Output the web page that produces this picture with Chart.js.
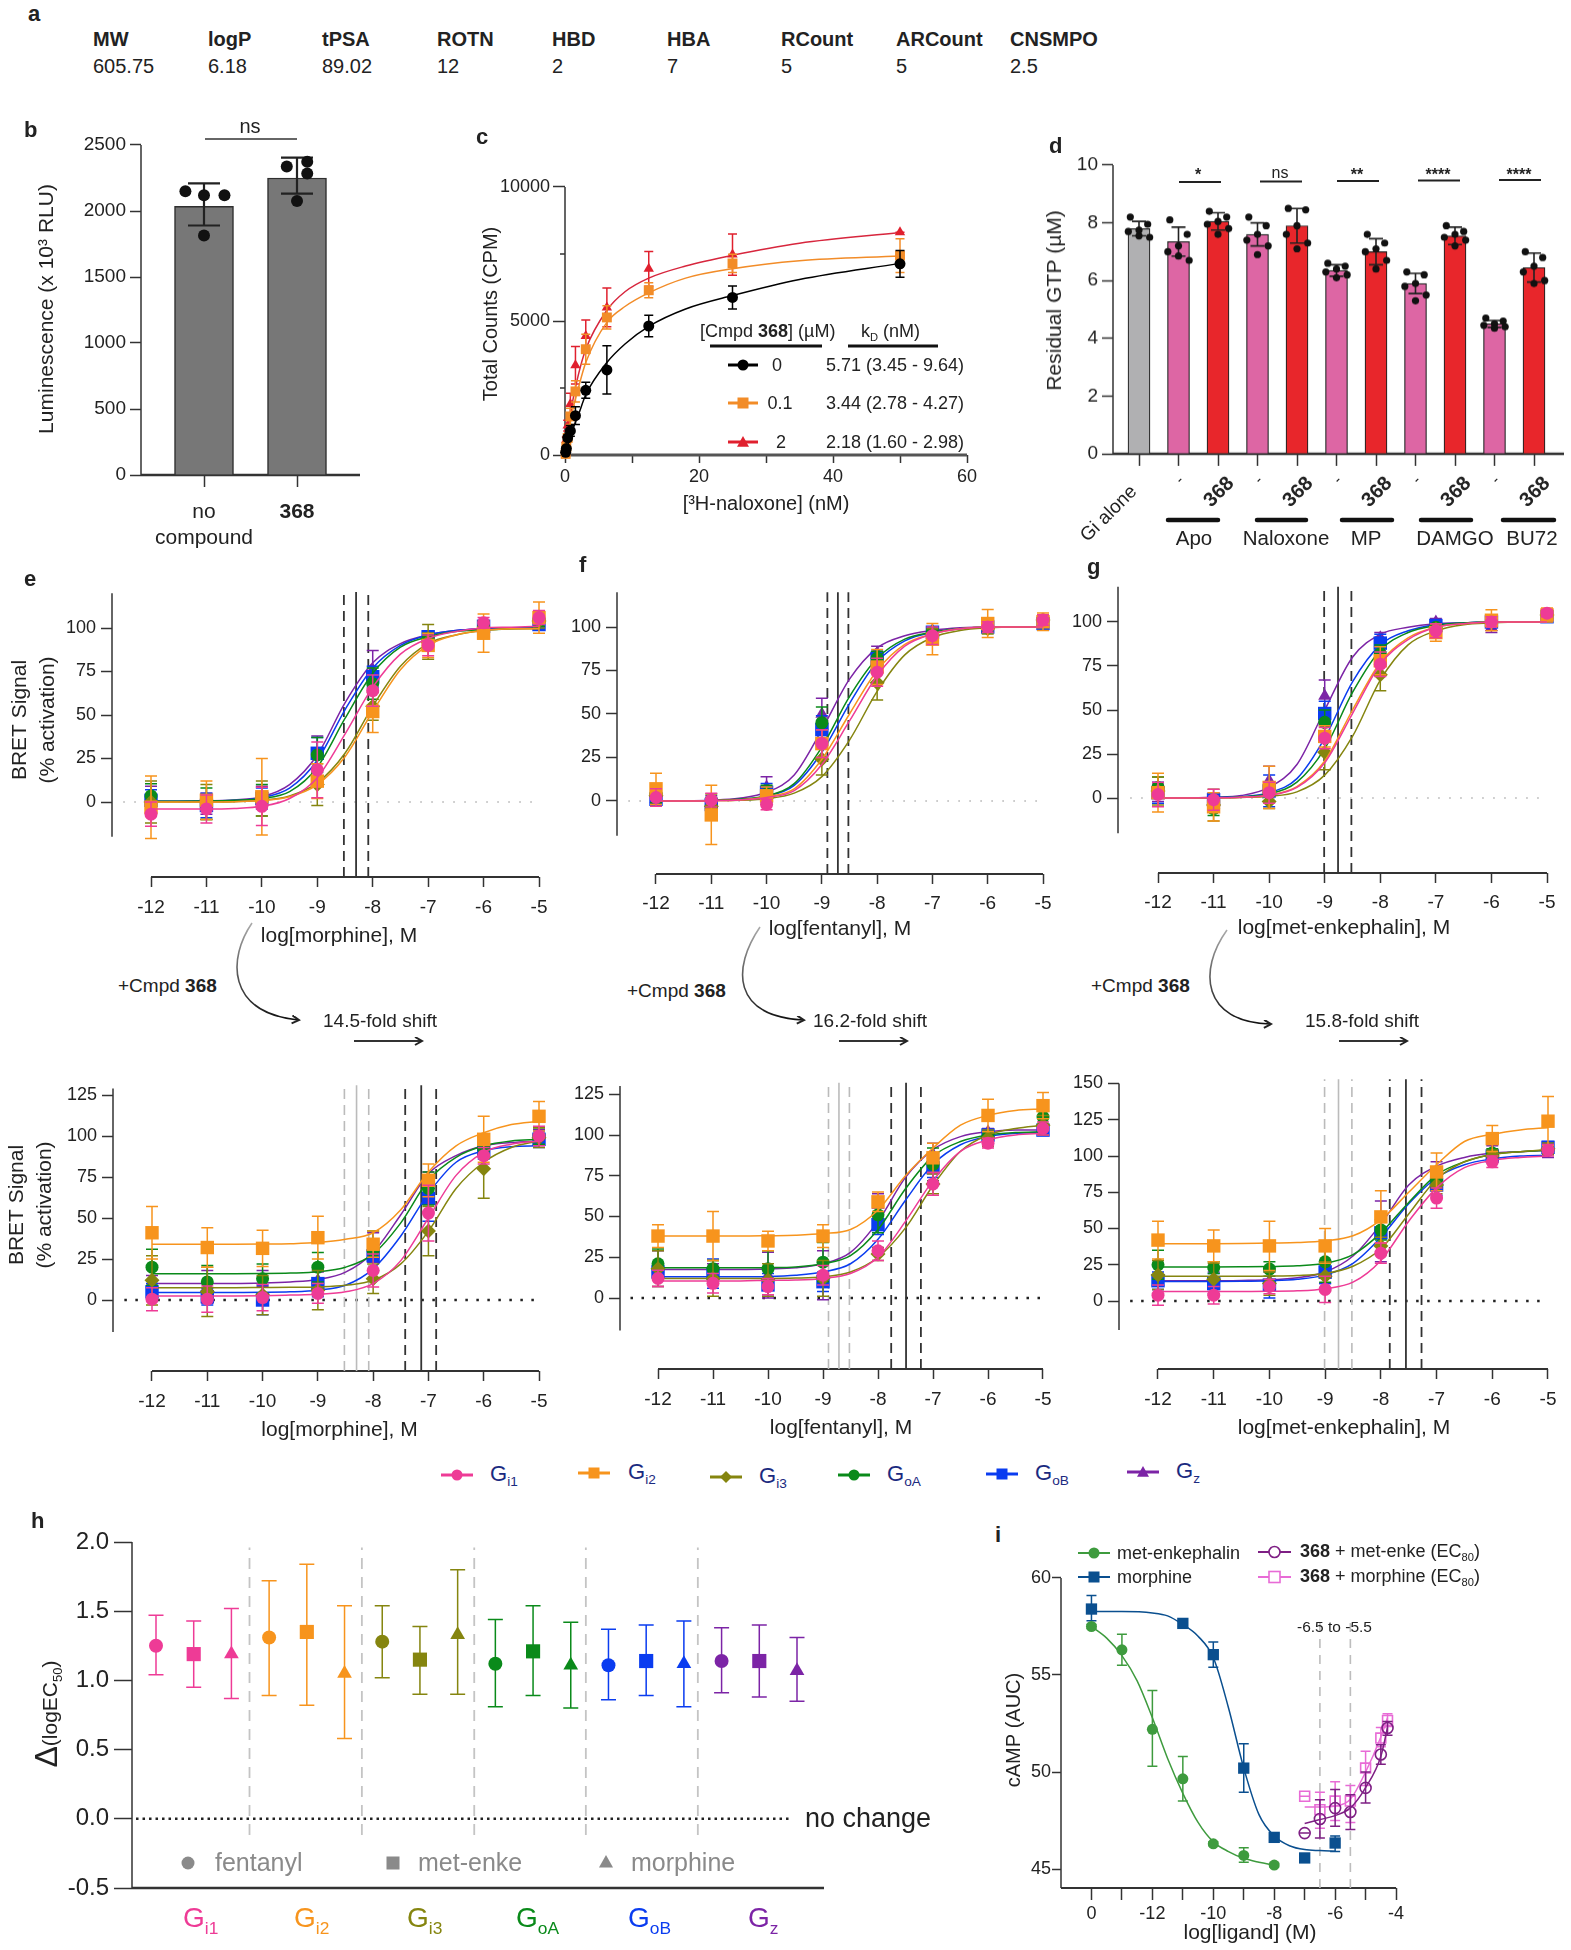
<!DOCTYPE html>
<html>
<head>
<meta charset="utf-8">
<title>Compound 368 figure</title>
<script src="https://cdn.jsdelivr.net/npm/chart.js@4/dist/chart.umd.min.js"></script>
<style>
  html, body { margin: 0; background: #fff; }
  #page { position: relative; width: 1571px; height: 1950px; overflow: hidden; font-family: "Liberation Sans", Arial, sans-serif; color: #222; }
  #page canvas { position: absolute; }
  #page svg { position: absolute; left: 0; top: 0; }
  .t { position: absolute; white-space: nowrap; line-height: 1; transform: translateY(-50%); }
  .t sub { font-size: .62em; vertical-align: baseline; position: relative; top: .4em; line-height: 0; }
</style>
</head>
<body>
<div id="page"></div>
<script>
// ---- panel a
const propNames = ["MW", "logP", "tPSA", "ROTN", "HBD", "HBA", "RCount", "ARCount", "CNSMPO"];
const propValues = ["605.75", "6.18", "89.02", "12", "2", "7", "5", "5", "2.5"];

// ---- panel b
const bLabels = [["no", "compound"], "368"];
const bMeans = [2035, 2250];
const bHi = [2210, 2405];
const bLo = [1890, 2132];
const bDotX = [0.8, 1, 1.22, 1, 1.89, 2.11, 2.11, 2];
const bDotY = [2150, 2120, 2120, 1815, 2338, 2373, 2284, 2076];

// ---- panel c
const cX = [0.1, 0.2, 0.4, 0.8, 1.56, 3.1, 6.25, 12.5, 25, 50];
const cBlack = [100, 240, 640, 900, 1467, 2413, 3173, 4813, 5880, 7133];
const cBlackErr = [30, 60, 100, 200, 330, 300, 900, 400, 430, 500];
const cOrange = [40, 300, 640, 1440, 2373, 3947, 5133, 6147, 7147, 7440];
const cOrangeErr = [40, 100, 150, 300, 400, 560, 435, 280, 340, 630];
const cRed = [170, 570, 1100, 1900, 3347, 4440, 5507, 6947, 7480, 8307];
const cRedErr = [50, 100, 200, 400, 700, 600, 720, 650, 770, 0];
const cFitX = [0, 1, 2, 3.1, 6.25, 9, 12.5, 18, 25, 35, 50];
const cBlackFit = [0, 850, 1500, 2250, 3450, 4150, 4800, 5450, 5950, 6550, 7150];
const cOrangeFit = [0, 1500, 2500, 3450, 4950, 5550, 6050, 6600, 6950, 7250, 7430];
const cRedFit = [0, 1800, 3000, 3950, 5400, 6100, 6600, 7050, 7450, 7900, 8300];

// ---- panel d
const dLabels = ["Gi alone", "-", "368", "-", "368", "-", "368", "-", "368", "-", "368"];
const dMeans = [7.8, 7.35, 8.05, 7.6, 7.9, 6.35, 7.0, 5.9, 7.55, 4.5, 6.45];
const dErr = [0.25, 0.5, 0.3, 0.4, 0.6, 0.2, 0.45, 0.35, 0.3, 0.12, 0.5];
const dDots = [
  [8.2, 7.95, 7.75, 7.7, 7.5, 7.55], [8.1, 7.6, 7.2, 7.0, 6.7, 6.85], [8.4, 8.2, 8.05, 7.95, 7.8, 7.6],
  [8.2, 7.9, 7.6, 7.4, 7.2, 6.9], [8.5, 8.45, 7.9, 7.6, 7.3, 7.1], [6.6, 6.5, 6.4, 6.3, 6.2, 6.1],
  [7.6, 7.3, 7.1, 7.0, 6.7, 6.4], [6.3, 6.2, 5.9, 5.8, 5.5, 5.3], [7.9, 7.7, 7.6, 7.5, 7.4, 7.2],
  [4.7, 4.6, 4.5, 4.45, 4.4, 4.35], [7.0, 6.8, 6.5, 6.3, 6.0, 5.9]
];
const dJitter = [-0.22, 0.22, 0, -0.27, 0.27, 0];

// ---- panels e, f, g: rows are Gi1, Gi2, Gi3, GoA, GoB, Gz
const gNames = ["i1", "i2", "i3", "oA", "oB", "z"];
const gColors = ["#EE3B96", "#F7941D", "#85850F", "#0A8A1A", "#0A3CF0", "#7C24A6"];
const gShapes = ["circle", "rect", "rectRot", "circle", "rect", "triangle"];
const gRadius = [6.5, 9.5, 7.5, 6.5, 9.5, 7.5];
const doseX = [-12, -11, -10, -9, -8, -7, -6, -5];
const fitX = [-12, -11.5, -11, -10.5, -10, -9.5, -9, -8.5, -8, -7.5, -7, -6.5, -6, -5.5, -5];

const eTopPts = [[-7, -4, -2.5, 18.5, 64, 90, 103, 106], [-3, 1, 3, 12, 52, 90, 97, 106], [0, 0, 2, 10, 55, 92, 99, 104], [3.5, -1, 1, 27, 68, 94, 100, 104], [1, -2, 2, 28, 72, 95, 101, 102], [2, -1, 3, 28, 76, 95, 101, 103]];
const eTopErr = [[7, 8, 11, 16, 9, 6, 3, 4], [18, 11, 22, 10, 12, 7, 11, 9], [12, 10, 10, 12, 8, 10, 5, 4], [7, 9, 9, 10, 9, 3, 2, 3], [6, 7, 6, 9, 6, 2, 3, 3], [7, 6, 6, 10, 11, 2, 3, 3]];
const eTopFit = [
  [-4, -4, -4, -3.7, -2.5, 2, 14, 39, 66, 85, 94, 98, 100, 100.5, 101],
  [0, 0, 0, 0.2, 0.8, 3, 10, 26, 52, 76, 90, 96, 98.5, 99.5, 99.5],
  [0, 0, 0, 0.2, 1, 3.5, 11, 28, 55, 78, 91, 96, 98.5, 99.5, 99.5],
  [0.5, 0.5, 0.6, 1, 2, 6, 20, 48, 74, 89, 95, 98, 99, 99.5, 100],
  [0.5, 0.5, 0.6, 1, 2.5, 8, 24, 53, 77, 90, 96, 98.5, 99.5, 100, 100],
  [0.5, 0.5, 0.7, 1.2, 3, 10, 27, 57, 80, 91, 96, 98.5, 99.5, 100, 100]
];
const fTopPts = [[2, 0.5, -2, 33, 74, 95, 100, 104], [7, -8, 3, 33, 77, 93, 102, 103], [3, -3, 2, 24, 68, 95, 99, 104], [4, -4, 4, 45, 82, 97, 100, 104], [1, -2, 5, 41, 82, 97, 100, 102], [1, 0, 8, 50, 85, 98, 100, 103]];
const fTopErr = [[5, 4, 3, 8, 8, 5, 3, 3], [9, 17, 5, 8, 10, 9, 8, 5], [5, 7, 4, 9, 10, 4, 3, 3], [5, 6, 5, 9, 4, 2, 3, 3], [3, 3, 5, 8, 4, 2, 2, 2], [3, 3, 6, 9, 4, 2, 2, 2]];
const fTopFit = [
  [0, 0, 0.2, 0.6, 2, 6, 21, 46, 72, 89, 96, 99, 100, 100, 100],
  [0, 0, 0.2, 0.6, 2.5, 7, 24, 50, 75, 90, 96, 99, 100, 100, 100],
  [0, 0, 0.2, 0.4, 1.3, 4.5, 14, 35, 63, 84, 94, 98, 99.5, 100, 100],
  [0, 0, 0.3, 1, 3, 10, 31, 60, 82, 93, 97, 99, 100, 100, 100],
  [0, 0, 0.3, 0.9, 2.8, 9, 28, 56, 80, 92, 97, 99, 100, 100, 100],
  [0, 0.1, 0.5, 1.6, 5, 15, 41, 70, 88, 95, 98, 99.5, 100, 100, 100]
];
const gTopPts = [[2, -1, 3, 34, 76, 95, 100, 105], [3, -5, 6, 35, 78, 94, 101, 104], [4, -4, -2, 26, 70, 96, 100, 104], [6, -6, 3, 43, 82, 97, 100, 104], [3, -1, 4, 48, 88, 98, 100, 103], [3, -1, 10, 58, 91, 100, 97, 104]];
const gTopErr = [[7, 6, 6, 6, 7, 4, 3, 2], [11, 8, 12, 6, 8, 5, 6, 4], [8, 9, 4, 10, 9, 3, 3, 2], [6, 4, 5, 7, 5, 2, 3, 3], [6, 3, 9, 7, 5, 2, 2, 2], [5, 4, 8, 9, 3, 2, 3, 2]];
const gTopFit = [
  [0, 0, 0.1, 0.4, 1.5, 6, 20, 48, 76, 90, 97, 99, 100, 100, 100],
  [0, 0, 0.1, 0.4, 1.6, 6.5, 21, 50, 77, 91, 97, 99, 100, 100, 100],
  [0, 0, 0.1, 0.3, 1, 3.5, 13, 35, 67, 87, 95, 98.5, 99.5, 100, 100],
  [0, 0, 0.2, 0.6, 2.4, 9, 28, 60, 84, 94, 98, 99.5, 100, 100, 100],
  [0, 0, 0.2, 0.8, 3, 11, 34, 66, 87, 95, 98.5, 99.5, 100, 100, 100],
  [0, 0, 0.4, 1.4, 6, 19, 50, 80, 93, 97, 99, 99.5, 100, 100, 100]
];
const eBotPts = [[0.5, 0.5, 1.5, 4, 18, 53, 88, 100], [41, 32, 31.5, 38, 34, 73, 98, 112], [12, 5, 3, 6, 13, 42, 80, 99], [20, 11, 13, 20, 30, 68, 92, 100], [5, 2, 0, 10, 27, 62, 91, 98], [10, 8, 10, 12, 32, 70, 92, 100]];
const eBotErr = [[7, 8, 8, 6, 10, 17, 5, 6], [16, 12, 11, 13, 8, 10, 14, 9], [15, 15, 12, 12, 9, 15, 18, 6], [11, 10, 9, 9, 12, 10, 3, 5], [5, 5, 9, 8, 9, 14, 5, 5], [5, 10, 8, 5, 9, 8, 3, 4]];
const eBotFit = [
  [2.5, 2.5, 2.5, 2.5, 2.6, 3, 3.5, 5, 10, 24, 50, 76, 90, 95, 97],
  [34, 34, 34, 34, 34.1, 34.3, 35, 37, 41, 55, 78, 94, 102, 107, 109],
  [7.5, 7.5, 7.5, 7.5, 7.6, 7.7, 8, 9, 12, 22, 42, 68, 84, 93, 97],
  [16, 16, 16, 16, 16.1, 16.4, 17.2, 20, 28, 47, 73, 87, 94, 97, 98],
  [4.5, 4.5, 4.5, 4.6, 4.7, 5, 6, 9, 19, 39, 65, 84, 91, 93.5, 94],
  [10, 10, 10, 10, 10.3, 11, 12.5, 17, 29, 52, 77, 88, 94, 96, 97]
];
const fBotPts = [[12, 9, 7, 14, 29, 70, 95, 104], [38, 38, 35, 38, 59, 86, 112, 118], [18, 12, 11, 12, 27, 70, 98, 106], [21, 18, 18, 22, 51, 82, 99, 111], [16, 15, 8, 10, 45, 80, 100, 103], [18, 15, 14, 14, 57, 88, 102, 106]];
const fBotErr = [[5, 6, 5, 6, 6, 7, 3, 4], [7, 15, 6, 7, 6, 9, 10, 8], [11, 11, 10, 11, 4, 6, 5, 6], [9, 5, 11, 12, 11, 10, 3, 5], [5, 9, 7, 6, 6, 6, 3, 3], [11, 6, 14, 15, 7, 7, 2, 5]];
const fBotFit = [
  [10.5, 10.5, 10.5, 10.5, 10.8, 11, 12, 15, 25, 47, 72, 90, 97, 100, 101],
  [38, 38, 38, 38, 38.2, 38.5, 39.5, 42, 54, 75, 92, 106, 112, 115, 116],
  [12, 12, 12, 12, 12, 12.2, 13, 16, 25, 43, 69, 90, 100, 104, 106],
  [18.5, 18.5, 18.5, 18.5, 18.6, 19, 21, 26, 42, 67, 87, 96, 100, 101.5, 102],
  [13, 13, 13, 13, 13.2, 14, 16, 21, 36, 60, 82, 94, 99, 101, 101.5],
  [17.5, 17.5, 17.5, 17.5, 17.8, 18.5, 21, 28, 47, 74, 91, 99, 102, 103, 103]
];
const gBotPts = [[4, 4, 10, 8, 33, 71, 96, 104], [42, 38, 38, 38, 58, 89, 112, 124], [18, 15, 12, 17, 38, 80, 100, 105], [25, 23, 22, 27, 49, 83, 102, 104], [14, 12, 11, 20, 47, 80, 100, 106], [13, 14, 14, 18, 48, 86, 103, 104]];
const gBotErr = [[7, 6, 5, 9, 7, 7, 4, 4], [13, 11, 17, 12, 18, 13, 9, 17], [10, 11, 8, 10, 6, 6, 4, 4], [10, 4, 5, 14, 7, 5, 3, 3], [6, 7, 9, 8, 9, 7, 3, 4], [5, 6, 7, 6, 21, 10, 4, 5]];
const gBotFit = [
  [6.5, 6.5, 6.5, 6.6, 6.7, 7, 8.5, 13, 28, 55, 78, 92, 97, 99, 100],
  [39.5, 39.5, 39.5, 39.6, 40, 40.3, 41.5, 45, 56, 75, 94, 110, 115, 118, 119.5],
  [17, 17, 17, 17, 17.2, 17.6, 19, 24, 36, 60, 84, 96, 101, 103, 104.5],
  [23.5, 23.5, 23.5, 23.6, 23.8, 24.3, 26, 32, 47, 68, 87, 96, 101, 103, 104],
  [13.5, 13.5, 13.5, 13.6, 14, 15, 18, 26, 44, 67, 85, 94, 98, 100, 100.5],
  [14, 14, 14, 14.2, 14.6, 16, 20, 31, 53, 80, 93, 99, 102, 103, 104]
];
const ecMorphineTop = [-8.52, -8.3, -8.08];
const ecFentanylTop = [-8.9, -8.71, -8.52];
const ecEnkTop = [-9.01, -8.76, -8.52];
const ecMorphineBot = [-7.42, -7.13, -6.86];
const ecFentanylBot = [-7.76, -7.49, -7.22];
const ecEnkBot = [-7.84, -7.55, -7.27];

// ---- panel h: three ligands per G protein (fentanyl, met-enke, morphine)
const hShapes = ["circle", "rect", "triangle"];
const hRadius = [7, 10, 8.5];
const hMeans = [[1.25, 1.19, 1.19], [1.31, 1.35, 1.05], [1.28, 1.15, 1.33], [1.12, 1.21, 1.11], [1.11, 1.14, 1.12], [1.14, 1.14, 1.07]];
const hHi = [[1.47, 1.43, 1.52], [1.72, 1.84, 1.54], [1.54, 1.39, 1.80], [1.44, 1.54, 1.42], [1.37, 1.40, 1.43], [1.38, 1.40, 1.31]];
const hLo = [[1.04, 0.95, 0.87], [0.89, 0.82, 0.58], [1.02, 0.90, 0.90], [0.81, 0.89, 0.80], [0.86, 0.89, 0.81], [0.91, 0.88, 0.85]];
const hSeparators = [2.48, 5.46, 8.44, 11.4, 14.37];
const hTicks = [-0.5, 0, 0.5, 1, 1.5, 2];

// ---- panel i
const iTicks = [-14, -13, -12, -11, -10, -9, -8, -7, -6, -5, -4];
const iEnkX = [-14, -13, -12, -11, -10, -9, -8];
const iEnk = [57.5, 56.3, 52.2, 49.65, 46.3, 45.7, 45.2];
const iEnkHi = [57.6, 57.1, 54.2, 50.8, 46.4, 46.1, 45.3];
const iEnkLo = [57.4, 55.5, 50.3, 48.5, 46.2, 45.35, 45.1];
const iEnkFitX = [-14, -13.5, -13, -12.5, -12, -11.5, -11, -10.5, -10, -9.5, -9, -8.5, -8];
const iEnkFit = [57.5, 56.9, 56.0, 54.7, 52.8, 50.7, 48.9, 47.4, 46.4, 45.9, 45.55, 45.35, 45.2];
const iMorX = [-14, -11, -10, -9, -8, -7, -6];
const iMor = [58.4, 57.66, 56.05, 50.2, 46.63, 45.57, 46.34];
const iMorHi = [59.1, 57.8, 56.7, 51.46, 46.8, 45.7, 46.7];
const iMorLo = [57.8, 57.5, 55.4, 48.95, 46.45, 45.45, 45.9];
const iMorFitX = [-14, -13, -12, -11.5, -11, -10.5, -10, -9.5, -9, -8.5, -8, -7.5, -7, -6.5, -6];
const iMorFit = [58.27, 58.27, 58.2, 58.05, 57.6, 57, 55.9, 53.3, 50.2, 47.8, 46.7, 46.2, 46, 45.95, 45.92];
const iCmpdX = [-7, -6.5, -6, -5.5, -5, -4.5, -4.28];
const iCmpdEnk = [46.85, 47.58, 48.14, 47.94, 49.18, 50.9, 52.27];
const iCmpdEnkHi = [46.85, 48.57, 49.1, 48.83, 50, 51.4, 52.6];
const iCmpdEnkLo = [46.85, 46.6, 47.2, 47.03, 48.4, 50.4, 51.9];
const iCmpdEnkFit = [47.35, 47.55, 47.75, 48.15, 49.2, 50.8, 52.3];
const iCmpdMor = [48.75, 48.06, 48.5, 48.5, 50.2, 51.75, 52.66];
const iCmpdMorHi = [48.75, 48.95, 49.5, 49.3, 51.07, 52.3, 53];
const iCmpdMorLo = [48.75, 47.1, 47.5, 47.4, 49.3, 51.3, 52.35];
const iCmpdMorFit = [48.2, 48.2, 48.25, 48.6, 50, 51.8, 52.8];
const iWindow = [-6.5, -5.5];

// ---------------------------------------------------------------------
Chart.defaults.font.family = '"Liberation Sans", Arial, sans-serif';
Chart.defaults.color = "#222";
const page = document.getElementById("page");
const INK = "#333";
const PAD = 20;

// error bars get drawn just under the points of their own dataset
Chart.register({
  id: "errorBars",
  beforeDatasetDraw(chart, args) {
    const ds = chart.data.datasets[args.index];
    if (!ds.hi) return;
    const { x: xs, y: ys } = chart.scales;
    const ctx = chart.ctx;
    const cap = ds.cap / 2;
    ctx.save();
    ctx.strokeStyle = ds.errColor || ds.borderColor;
    ctx.lineWidth = ds.errWidth || 1.5;
    ds.data.forEach((p, i) => {
      const x = xs.getPixelForValue(p.x);
      const top = ys.getPixelForValue(ds.hi[i]);
      const bot = ys.getPixelForValue(ds.lo[i]);
      ctx.beginPath();
      ctx.moveTo(x, top); ctx.lineTo(x, bot);
      ctx.moveTo(x - cap, top); ctx.lineTo(x + cap, top);
      ctx.moveTo(x - cap, bot); ctx.lineTo(x + cap, bot);
      ctx.stroke();
    });
    ctx.restore();
  }
});

// axis lines only run over part of the plot area in this figure
Chart.register({
  id: "axisLines",
  beforeDatasetsDraw(chart, args, o) {
    const { x: xs, y: ys } = chart.scales;
    const { left, bottom } = chart.chartArea;
    const ctx = chart.ctx;
    ctx.save();
    ctx.strokeStyle = o.color || INK;
    ctx.lineWidth = o.yWidth || 1.5;
    ctx.beginPath();
    ctx.moveTo(left, ys.getPixelForValue(o.yFrom));
    ctx.lineTo(left, ys.getPixelForValue(o.yTo));
    (o.minorY || []).forEach(v => {
      ctx.moveTo(left, ys.getPixelForValue(v));
      ctx.lineTo(left - 5, ys.getPixelForValue(v));
    });
    ctx.stroke();
    ctx.strokeStyle = o.xColor || o.color || INK;
    ctx.lineWidth = o.xWidth || 2;
    ctx.beginPath();
    ctx.moveTo(xs.getPixelForValue(o.xFrom), bottom);
    ctx.lineTo(xs.getPixelForValue(o.xTo), bottom);
    ctx.stroke();
    ctx.restore();
  }
});

// value range a scale needs so that two known values land on two known pixels
function rangeFor(pxLo, pxHi, v0, p0, v1, p1) {
  const at = p => v0 + (p - p0) * (v1 - v0) / (p1 - p0);
  return [at(pxLo), at(pxHi)];
}

// b: plot box in page pixels, yw/xh: room for the y and x axes
function makeChart(b, datasets, xOpt, yOpt, axes, type) {
  const c = document.createElement("canvas");
  const w = b.right - b.left + b.yw + PAD;
  const h = b.bottom - b.top + b.xh + PAD;
  c.width = w; c.height = h;
  c.style.cssText = `left:${b.left - b.yw}px;top:${b.top - PAD}px;width:${w}px;height:${h}px`;
  page.appendChild(c);
  const xTicks = xOpt.tickValues, yTicks = yOpt.tickValues;
  return new Chart(c, {
    type: type || "scatter",
    data: { datasets },
    options: {
      responsive: false,
      animation: false,
      devicePixelRatio: 1,
      layout: { padding: { top: PAD, right: PAD, left: 0, bottom: 0 } },
      plugins: { legend: { display: false }, tooltip: { enabled: false }, axisLines: axes },
      scales: {
        x: {
          type: "linear", min: xOpt.min, max: xOpt.max, offset: false,
          border: { display: false },
          grid: { drawOnChartArea: false, offset: false, tickLength: xOpt.tickLength, tickColor: INK, tickWidth: 1.5 },
          ticks: {
            autoSkip: false, maxRotation: xOpt.rotation || 0, minRotation: xOpt.rotation || 0,
            padding: xOpt.padding, font: xOpt.font, color: "#222", labelOffset: xOpt.labelOffset || 0,
            callback: xOpt.label || (v => String(v))
          },
          title: xOpt.title ? { display: true, text: xOpt.title, padding: 0, color: "#222", font: { size: xOpt.titleSize || 21, lineHeight: 1.24 } } : { display: false },
          afterBuildTicks: s => { s.ticks = xTicks.map(value => ({ value })); },
          afterFit: s => { s.height = b.xh; }
        },
        y: {
          type: "linear", min: yOpt.min, max: yOpt.max,
          border: { display: false },
          grid: { drawOnChartArea: false, tickLength: yOpt.tickLength, tickColor: INK, tickWidth: 1.5 },
          ticks: {
            autoSkip: false, padding: yOpt.padding || 6, font: yOpt.font, color: "#222",
            callback: yOpt.label || (v => String(v))
          },
          title: yOpt.title ? { display: true, text: yOpt.title, padding: 0, color: "#222", font: { size: yOpt.titleSize || 21, lineHeight: yOpt.titleLine || 1.24 } } : { display: false },
          afterBuildTicks: s => { s.ticks = yTicks.map(value => ({ value })); },
          afterFit: s => { s.width = b.yw; }
        }
      }
    }
  });
}

const toXY = (xs, ys) => xs.map((x, i) => ({ x, y: ys[i] }));
const fitLine = (xs, ys, color, width) => ({
  data: toXY(xs, ys), showLine: true, pointRadius: 0, borderColor: color,
  borderWidth: width || 1.5, cubicInterpolationMode: "monotone", clip: false
});
const marks = (xs, ys, hi, lo, color, style, radius, cap, extra) => Object.assign({
  data: toXY(xs, ys), pointStyle: style, pointRadius: radius, backgroundColor: color,
  borderColor: color, pointBorderWidth: 0, hi, lo, cap, clip: false
}, extra || {});
const vLine = (x, y0, y1, color, width, dash) => ({
  data: [{ x, y: y0 }, { x, y: y1 }], showLine: true, pointRadius: 0,
  borderColor: color, borderWidth: width, borderDash: dash || [], clip: false
});

// ---- text and decoration helpers
function label(x, y, html, size, opts) {
  const o = opts || {};
  const d = document.createElement("div");
  d.className = "t";
  d.innerHTML = html;
  d.style.left = x + "px";
  d.style.top = y + "px";
  d.style.fontSize = size + "px";
  if (o.bold) d.style.fontWeight = "bold";
  if (o.color) d.style.color = o.color;
  if (o.center) d.style.transform = "translate(-50%,-50%)";
  if (o.rotate) d.style.transform = `translate(-50%,-50%) rotate(${o.rotate}deg)`;
  page.appendChild(d);
}
let svg = `<defs>
  <marker id="head" markerWidth="10" markerHeight="10" refX="7" refY="4" orient="auto" markerUnits="userSpaceOnUse"><path d="M1,0 L8,4 L1,8" fill="none" stroke="#222" stroke-width="2"/></marker>
  <linearGradient id="fade" x1="0" y1="0" x2="0" y2="1"><stop offset="0" stop-color="#aaa"/><stop offset="1" stop-color="#111"/></linearGradient>
</defs>`;
const line = (x1, y1, x2, y2, color, w, head, round) => {
  svg += `<line x1="${x1}" y1="${y1}" x2="${x2}" y2="${y2}" stroke="${color}" stroke-width="${w}"${head ? ' marker-end="url(#head)"' : ""}${round ? ' stroke-linecap="round"' : ""}/>`;
};
const swoop = d => { svg += `<path d="${d}" fill="none" stroke="url(#fade)" stroke-width="1.6" marker-end="url(#head)"/>`; };
function glyph(shape, x, y, r, color, hollow) {
  const fill = hollow ? "#fff" : color;
  const paint = `fill="${fill}" stroke="${color}" stroke-width="${hollow ? 1.6 : 0}"`;
  if (shape === "circle") svg += `<circle cx="${x}" cy="${y}" r="${r}" ${paint}/>`;
  if (shape === "rect") svg += `<rect x="${x - r}" y="${y - r}" width="${2 * r}" height="${2 * r}" ${paint}/>`;
  if (shape === "rectRot") svg += `<path d="M${x},${y - r} L${x + r},${y} L${x},${y + r} L${x - r},${y} Z" ${paint}/>`;
  if (shape === "triangle") svg += `<path d="M${x},${y - r} L${x + r},${y + r * 0.8} L${x - r},${y + r * 0.8} Z" ${paint}/>`;
}
function legendKey(x0, x1, y, shape, r, color, hollow, w) {
  line(x0, y, x1, y, color, w || 3);
  glyph(shape, (x0 + x1) / 2, y, r, color, hollow);
}

// ---- panel a
const propX = [93, 208, 322, 437, 552, 667, 781, 896, 1010];
propNames.forEach((n, i) => {
  label(propX[i], 39, n, 20, { bold: true });
  label(propX[i], 66, propValues[i], 20);
});

// ---- panel b
{
  const box = { left: 141, right: 360, top: 143, bottom: 475, yw: 107, xh: 80 };
  const [xMin, xMax] = rangeFor(box.left, box.right, 1, 204, 2, 297);
  const [yMin, yMax] = rangeFor(box.bottom, box.top, 0, 475, 2500, 145);
  const dots = { type: "scatter", data: toXY(bDotX, bDotY), pointRadius: 6, backgroundColor: "#111", pointBorderWidth: 0 };
  const means = { type: "scatter", data: toXY([1, 2], bMeans), pointRadius: 0, borderColor: "#222", hi: bHi, lo: bLo, cap: 32, errWidth: 2.2 };
  const bars = { type: "bar", data: toXY([1, 2], bMeans), barThickness: 59, backgroundColor: "#777777", borderColor: "#2f2f2f", borderWidth: 1.5 };
  makeChart(box, [dots, means, bars],
    {
      min: xMin, max: xMax, tickValues: [1, 2], tickLength: 12, padding: 12,
      label: (v, i) => bLabels[i],
      font: c => ({ size: 21, lineHeight: 1.24, weight: c.index === 1 ? "bold" : "normal" })
    },
    {
      min: yMin, max: yMax, tickValues: [0, 500, 1000, 1500, 2000, 2500], tickLength: 11,
      padding: 4, font: { size: 19 }, title: "Luminescence (x 10³ RLU)"
    },
    { yFrom: 0, yTo: 2500, xFrom: xMin, xTo: xMax, xWidth: 2.5 }, "bar");
  label(250, 126, "ns", 20, { center: true });
  line(205, 139, 297, 139, "#333", 1.6);
}

// ---- panel c
{
  const box = { left: 565, right: 967, top: 173, bottom: 455, yw: 86, xh: 62 };
  const [yMin, yMax] = rangeFor(box.bottom, box.top, 0, 455, 10000, 187);
  const plusMinus = (v, e) => v.map((a, i) => a + e[i]);
  const minusErr = (v, e) => v.map((a, i) => a - e[i]);
  makeChart(box, [
    marks(cX, cBlack, plusMinus(cBlack, cBlackErr), minusErr(cBlack, cBlackErr), "#000", "circle", 5.5, 9),
    fitLine(cFitX, cBlackFit, "#000"),
    marks(cX, cOrange, plusMinus(cOrange, cOrangeErr), minusErr(cOrange, cOrangeErr), "#F28C28", "rect", 7, 9),
    fitLine(cFitX, cOrangeFit, "#F28C28"),
    marks(cX, cRed, plusMinus(cRed, cRedErr), minusErr(cRed, cRedErr), "#E0202E", "triangle", 6, 9),
    fitLine(cFitX, cRedFit, "#D7263D")
  ],
    {
      min: 0, max: 60, tickValues: [0, 10, 20, 30, 40, 50, 60], tickLength: 8, padding: 3,
      label: v => (v % 20 === 0 ? String(v) : ""), font: { size: 18 }, title: "[³H-naloxone] (nM)", titleSize: 20
    },
    {
      min: yMin, max: yMax, tickValues: [0, 5000, 10000], tickLength: 12, padding: 3,
      font: { size: 18 }, title: "Total Counts (CPM)", titleSize: 20
    },
    { yFrom: 0, yTo: 10000, xFrom: 0, xTo: 60, minorY: [2500, 7500], xColor: "#555", xWidth: 3 });
  label(700, 331, "[Cmpd <b>368</b>] (µM)", 18);
  label(861, 331, "k<sub>D</sub> (nM)", 18);
  line(710, 346, 822, 346, "#111", 3);
  line(848, 346, 938, 346, "#111", 3);
  legendKey(728, 758, 365, "circle", 5.5, "#000");
  legendKey(728, 758, 403, "rect", 5.5, "#F28C28");
  legendKey(728, 758, 442, "triangle", 6, "#E0202E");
  label(777, 365, "0", 18, { center: true });
  label(780, 403, "0.1", 18, { center: true });
  label(781, 442, "2", 18, { center: true });
  label(826, 365, "5.71 (3.45 - 9.64)", 18);
  label(826, 403, "3.44 (2.78 - 4.27)", 18);
  label(826, 442, "2.18 (1.60 - 2.98)", 18);
}

// ---- panel d
{
  const box = { left: 1113, right: 1564, top: 147, bottom: 453.5, yw: 71, xh: 75 };
  const [xMin, xMax] = rangeFor(box.left, box.right, 0, 1139, 10, 1534);
  const [yMin, yMax] = rangeFor(box.bottom, box.top, 0, 453.5, 10, 165);
  const bx = dMeans.map((_, i) => i);
  const dotPts = [];
  dDots.forEach((row, i) => row.forEach((y, j) => dotPts.push({ x: i + dJitter[j], y })));
  const dots = { type: "scatter", data: dotPts, pointRadius: 3.6, backgroundColor: "#111", pointBorderWidth: 0 };
  const means = {
    type: "scatter", data: toXY(bx, dMeans), pointRadius: 0, borderColor: "#222", cap: 14, errWidth: 1.6,
    hi: dMeans.map((m, i) => m + dErr[i]), lo: dMeans.map((m, i) => m - dErr[i])
  };
  const bars = {
    type: "bar", data: toXY(bx, dMeans), barThickness: 22, borderColor: "#222", borderWidth: 1.2,
    backgroundColor: dLabels.map(l => (l === "368" ? "#E8262B" : l === "-" ? "#DD66A4" : "#B0B0B2"))
  };
  // only the bold compound labels sit at one fixed offset from their tick
  makeChart(box, [dots, means, bars],
    {
      min: xMin, max: xMax, tickValues: bx, tickLength: 12, padding: 6, rotation: 45, labelOffset: 13,
      label: (v, i) => (dLabels[i] === "368" ? "368" : ""),
      font: { size: 20, weight: "bold" }
    },
    {
      min: yMin, max: yMax, tickValues: [0, 2, 4, 6, 8, 10], tickLength: 11, padding: 4,
      font: { size: 19 }, title: "Residual GTP (µM)"
    },
    { yFrom: 0, yTo: 10, xFrom: xMin, xTo: xMax, xWidth: 2.5 }, "bar");
  label(1108, 513, dLabels[0], 19, { rotate: -45 });
  dLabels.forEach((l, i) => { if (l === "-") label(1139 + 39.5 * i, 479, l, 15, { rotate: -45 }); });
  const sig = ["*", "ns", "**", "****", "****"];
  const sigX = [1198, 1280, 1357, 1438, 1519];
  const sigLines = [[1179, 1221, 182], [1260, 1302, 181.5], [1337, 1379, 181], [1418, 1460, 180.5], [1499, 1541, 180]];
  sig.forEach((s, i) => {
    label(sigX[i], s === "ns" ? 173 : 175, s, 16, { center: true, bold: s !== "ns" });
    line(sigLines[i][0], sigLines[i][2], sigLines[i][1], sigLines[i][2], "#222", 1.8);
  });
  const groups = ["Apo", "Naloxone", "MP", "DAMGO", "BU72"];
  const groupX = [1194, 1286, 1366, 1455, 1532];
  const groupBar = [[1168, 1218], [1257, 1306], [1342, 1392], [1421, 1471], [1503, 1554]];
  groups.forEach((g, i) => {
    label(groupX[i], 538, g, 20.5, { center: true });
    line(groupBar[i][0], 520, groupBar[i][1], 520, "#111", 4.5, false, true);
  });
}

// ---- panels e, f, g
function dosePanel(p) {
  const box = { left: p.left, right: p.right, top: p.top, bottom: p.bottom, yw: p.yw, xh: p.xh };
  const [xMin, xMax] = rangeFor(p.left, p.right, -12, p.x12, -5, p.x5);
  const [yMin, yMax] = rangeFor(p.bottom, p.top, 0, p.y0, 100, p.y100);
  const ds = [];
  gNames.forEach((_, s) => {
    ds.push(marks(doseX, p.pts[s], p.pts[s].map((v, i) => v + p.err[s][i]), p.pts[s].map((v, i) => v - p.err[s][i]), gColors[s], gShapes[s], gRadius[s], 12));
    ds.push(fitLine(fitX, p.fit[s], gColors[s]));
  });
  const dash = [10, 6];
  ds.push(vLine(p.ec[0], yMin, p.vTop, "#333", 1.8, dash), vLine(p.ec[1], yMin, p.vTop, "#333", 1.8), vLine(p.ec[2], yMin, p.vTop, "#333", 1.8, dash));
  if (p.greyEc) {
    ds.push(vLine(p.greyEc[0], yMin, p.vTop, "#BBB", 1.6, dash), vLine(p.greyEc[1], yMin, p.vTop, "#BBB", 1.6), vLine(p.greyEc[2], yMin, p.vTop, "#BBB", 1.6, dash));
  }
  ds.push({
    data: [{ x: p.dotFrom, y: 0 }, { x: -5, y: 0 }], showLine: true, pointRadius: 0, clip: false,
    borderColor: p.strongZero ? "#222" : "#888", borderWidth: p.strongZero ? 2.6 : 1.2,
    borderDash: p.strongZero ? [2.5, 8.5] : [1.5, 9.5]
  });
  makeChart(box, ds,
    {
      min: xMin, max: xMax, tickValues: doseX, tickLength: 10, padding: p.xPad, font: { size: 19 },
      title: p.xTitle
    },
    {
      min: yMin, max: yMax, tickValues: p.yTicks, tickLength: 11, padding: 5, font: { size: 18 },
      title: p.yTitle, titleLine: 1.33
    },
    { yFrom: p.axisLo, yTo: p.axisHi, xFrom: -12, xTo: -5, xWidth: 2 });
}
const yLabelRow = [0, 25, 50, 75, 100];
const bretTitle = ["BRET Signal", "(% activation)"];
dosePanel({ pts: eTopPts, err: eTopErr, fit: eTopFit, ec: ecMorphineTop, left: 112, right: 566, top: 563, bottom: 877, yw: 106, xh: 72, x12: 151, x5: 539, y0: 802, y100: 628, vTop: 120.7, axisLo: -20, axisHi: 120, yTicks: yLabelRow, xTitle: "log[morphine], M", yTitle: bretTitle, dotFrom: -12.5, xPad: 9 });
dosePanel({ pts: fTopPts, err: fTopErr, fit: fTopFit, ec: ecFentanylTop, left: 617, right: 1063, top: 575, bottom: 874, yw: 50, xh: 68, x12: 656, x5: 1043, y0: 801, y100: 627, vTop: 120, axisLo: -20, axisHi: 120, yTicks: yLabelRow, xTitle: "log[fentanyl], M", dotFrom: -12.5, xPad: 8 });
dosePanel({ pts: gTopPts, err: gTopErr, fit: gTopFit, ec: ecEnkTop, left: 1118, right: 1570, top: 575, bottom: 873, yw: 50, xh: 68, x12: 1158, x5: 1547, y0: 798, y100: 622, vTop: 120, axisLo: -20, axisHi: 120, yTicks: yLabelRow, xTitle: "log[met-enkephalin], M", dotFrom: -12.5, xPad: 8 });
dosePanel({ pts: eBotPts, err: eBotErr, fit: eBotFit, ec: ecMorphineBot, greyEc: ecMorphineTop, left: 113, right: 566, top: 1039, bottom: 1371, yw: 110, xh: 72, x12: 152, x5: 539, y0: 1300, y100: 1136, vTop: 131, axisLo: -19.5, axisHi: 129, yTicks: [0, 25, 50, 75, 100, 125], xTitle: "log[morphine], M", yTitle: bretTitle, dotFrom: -12.5, strongZero: true, xPad: 9 });
dosePanel({ pts: fBotPts, err: fBotErr, fit: fBotFit, ec: ecFentanylBot, greyEc: ecFentanylTop, left: 620, right: 1062, top: 1070, bottom: 1369, yw: 50, xh: 72, x12: 658, x5: 1043, y0: 1298, y100: 1135, vTop: 132, axisLo: -20, axisHi: 130, yTicks: [0, 25, 50, 75, 100, 125], xTitle: "log[fentanyl], M", dotFrom: -12.5, strongZero: true, xPad: 9 });
dosePanel({ pts: gBotPts, err: gBotErr, fit: gBotFit, ec: ecEnkBot, greyEc: ecEnkTop, left: 1119, right: 1569, top: 1070, bottom: 1369, yw: 50, xh: 72, x12: 1158, x5: 1548, y0: 1301, y100: 1156, vTop: 153, axisLo: -20, axisHi: 150, yTicks: [0, 25, 50, 75, 100, 125, 150], xTitle: "log[met-enkephalin], M", dotFrom: -12.5, strongZero: true, xPad: 9 });

// shift annotations between the two rows
label(118, 985, "+Cmpd <b>368</b>", 19);
label(627, 990, "+Cmpd <b>368</b>", 19);
label(1091, 985, "+Cmpd <b>368</b>", 19);
label(323, 1020, "14.5-fold shift", 19);
label(813, 1020, "16.2-fold shift", 19);
label(1305, 1020, "15.8-fold shift", 19);
line(354, 1041, 421, 1041, "#333", 2, true);
line(839, 1041, 906, 1041, "#333", 2, true);
line(1339, 1041, 1406, 1041, "#333", 2, true);
swoop("M252,923 C228,958 226,1012 298,1020");
swoop("M760,927 C732,968 732,1016 803,1020");
swoop("M1227,930 C1198,970 1202,1022 1270,1024");

// G protein key
const keyX = [457, 594, 726, 854, 1002, 1143];
const keyY = [1475, 1473, 1477, 1475, 1474, 1472];
const keyTextX = [490, 628, 759, 887, 1035, 1176];
gNames.forEach((n, s) => {
  legendKey(keyX[s] - 16, keyX[s] + 16, keyY[s], gShapes[s], s === 2 || s === 5 ? 6 : 5.5, gColors[s]);
  label(keyTextX[s], keyY[s] - 1, `G<sub>${n}</sub>`, 22, { color: "#1B2A80" });
});

// ---- panel h
{
  const box = { left: 132, right: 824, top: 1530, bottom: 1888, yw: 80, xh: 30 };
  const [xMin, xMax] = rangeFor(box.left, box.right, 0, 156, 17, 797);
  const [yMin, yMax] = rangeFor(box.bottom, box.top, -0.5, 1888, 2, 1542);
  const ds = [];
  hMeans.forEach((row, g) => {
    const xs = row.map((_, j) => g * 3 + j);
    ds.push({
      data: toXY(xs, row), hi: hHi[g], lo: hLo[g], cap: 15, borderColor: gColors[g], backgroundColor: gColors[g],
      pointStyle: hShapes, pointRadius: hRadius, pointBorderWidth: 0, clip: false
    });
  });
  hSeparators.forEach(x => ds.push(vLine(x, -0.117, 1.96, "#C4C4C4", 1.8, [11, 8])));
  ds.push({
    data: [{ x: -0.53, y: 0 }, { x: 16.8, y: 0 }], showLine: true, pointRadius: 0,
    borderColor: "#222", borderWidth: 2.6, borderDash: [2.5, 4]
  });
  makeChart(box, ds,
    { min: xMin, max: xMax, tickValues: [], tickLength: 0, padding: 0, font: { size: 10 } },
    {
      min: yMin, max: yMax, tickValues: hTicks, tickLength: 18, padding: 5, font: { size: 24 },
      label: v => v.toFixed(1)
    },
    { yFrom: -0.5, yTo: 2, xFrom: xMin, xTo: xMax, xWidth: 2.5 });
  label(46, 1714, '<span style="font-size:32px">Δ</span>(logEC<sub>50</sub>)', 21, { rotate: -90 });
  label(805, 1818, "no change", 27);
  glyph("circle", 188, 1863, 6.5, "#8A8A8A");
  label(215, 1862, "fentanyl", 25, { color: "#8A8A8A" });
  glyph("rect", 393, 1863, 6.5, "#8A8A8A");
  label(418, 1862, "met-enke", 25, { color: "#8A8A8A" });
  glyph("triangle", 606, 1862, 7, "#8A8A8A");
  label(631, 1862, "morphine", 25, { color: "#8A8A8A" });
  const hLabelX = [183, 294, 407, 516, 628, 748];
  gNames.forEach((n, s) => label(hLabelX[s], 1918, `G<sub>${n}</sub>`, 28, { color: gColors[s] }));
}

// ---- panel i
{
  const box = { left: 1060.5, right: 1439, top: 1572, bottom: 1888, yw: 59, xh: 58 };
  const [xMin, xMax] = rangeFor(box.left, box.right, -14, 1091, -4, 1396);
  const [yMin, yMax] = rangeFor(box.bottom, box.top, 45, 1869, 60, 1578);
  const green = "#3E9B3E", navy = "#0A4F8F", plum = "#7E1F84", pink = "#E86BD6";
  const hollow = { backgroundColor: "#FFFFFF00", pointBorderWidth: 1.6 };
  makeChart(box, [
    marks(iCmpdX, iCmpdEnk, iCmpdEnkHi, iCmpdEnkLo, plum, "circle", 5.5, 10, hollow),
    fitLine(iCmpdX, iCmpdEnkFit, plum),
    marks(iCmpdX, iCmpdMor, iCmpdMorHi, iCmpdMorLo, pink, "rect", 7, 10, hollow),
    fitLine(iCmpdX, iCmpdMorFit, pink),
    marks(iEnkX, iEnk, iEnkHi, iEnkLo, green, "circle", 5.5, 10),
    fitLine(iEnkFitX, iEnkFit, green),
    marks(iMorX, iMor, iMorHi, iMorLo, navy, "rect", 8, 10),
    fitLine(iMorFitX, iMorFit, navy),
    vLine(iWindow[0], yMin, 57.85, "#BDBDBD", 1.6, [9, 7]),
    vLine(iWindow[1], yMin, 57.85, "#BDBDBD", 1.6, [9, 7])
  ],
    {
      min: xMin, max: xMax, tickValues: iTicks, tickLength: 12, padding: 3, font: { size: 18 },
      label: v => (v === -14 ? "0" : v % 2 === 0 ? String(v) : ""), title: "log[ligand] (M)"
    },
    {
      min: yMin, max: yMax, tickValues: [45, 50, 55, 60], tickLength: 9, padding: 1,
      font: { size: 18 }, title: "cAMP (AUC)", titleSize: 20
    },
    { yFrom: yMin, yTo: 60, xFrom: xMin, xTo: -4, xWidth: 2 });
  legendKey(1078, 1110, 1553, "circle", 5.5, green, false, 2);
  legendKey(1078, 1110, 1577, "rect", 5.5, navy, false, 2);
  legendKey(1258, 1291, 1552, "circle", 5.5, plum, true, 2);
  legendKey(1258, 1291, 1577, "rect", 5.5, pink, true, 2);
  label(1117, 1553, "met-enkephalin", 18);
  label(1117, 1577, "morphine", 18);
  label(1300, 1551, "<b>368</b> + met-enke (EC<sub>80</sub>)", 18);
  label(1300, 1576, "<b>368</b> + morphine (EC<sub>80</sub>)", 18);
  label(1297, 1627, "-6.5 to -5.5", 15.5);
}

// ---- panel letters
const letters = ["a", "b", "c", "d", "e", "f", "g", "h", "i"];
const letterX = [28, 24, 476, 1049, 24, 579, 1087, 31, 995];
const letterY = [14, 130, 137, 146, 579, 565, 567, 1521, 1535];
letters.forEach((l, i) => label(letterX[i], letterY[i], l, 22, { bold: true }));

const overlay = document.createElementNS("http://www.w3.org/2000/svg", "svg");
overlay.setAttribute("width", 1571);
overlay.setAttribute("height", 1950);
overlay.innerHTML = svg;
page.appendChild(overlay);
</script>
</body>
</html>
